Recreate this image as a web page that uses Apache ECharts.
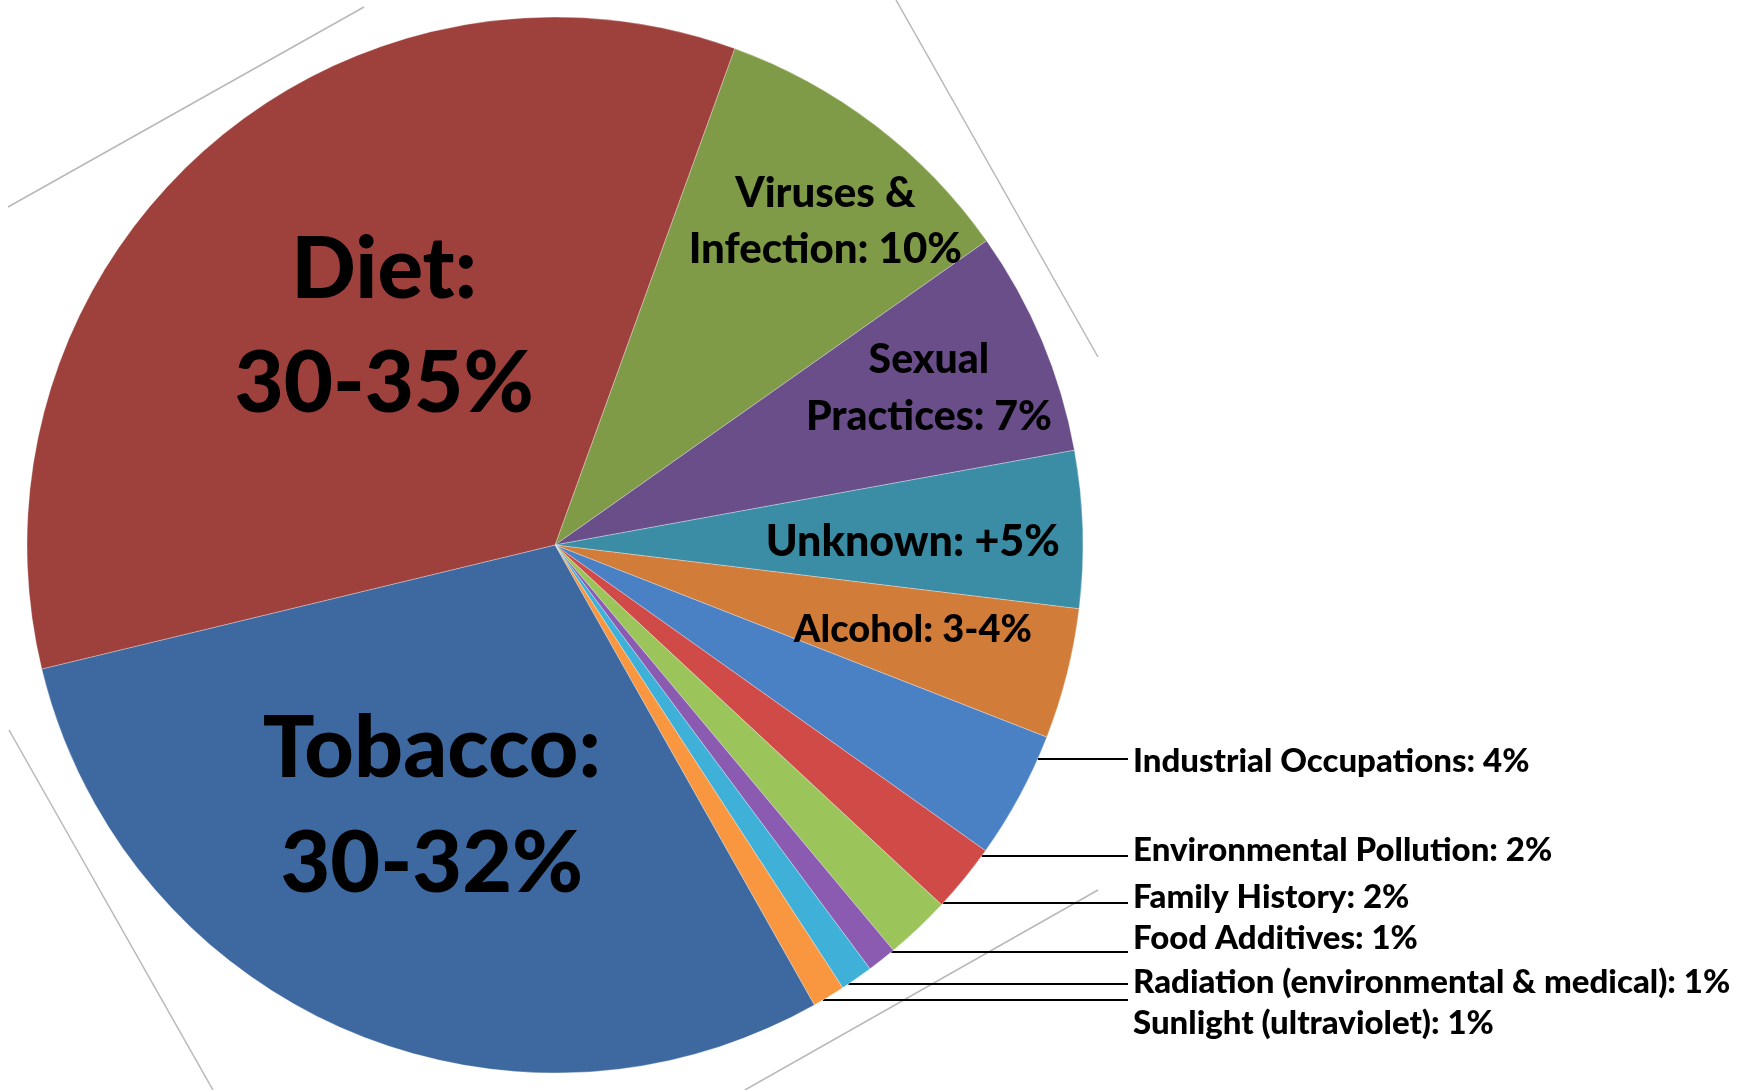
<!DOCTYPE html>
<html>
<head>
<meta charset="utf-8">
<style>
  html, body { margin: 0; padding: 0; background: #fff; }
  #chart { width: 1745px; height: 1090px; }
</style>
<script src="https://cdn.jsdelivr.net/npm/echarts@6/dist/echarts.min.js"></script>
</head>
<body>
<div id="chart"></div>
<script>
// slices, clockwise starting at the Diet / Viruses edge
const causes = [
    'Viruses & Infection', 'Sexual Practices', 'Unknown', 'Alcohol',
    'Industrial Occupations', 'Environmental Pollution', 'Family History',
    'Food Additives', 'Radiation (environmental & medical)',
    'Sunlight (ultraviolet)', 'Tobacco', 'Diet'
];
const shares = [9.7, 6.9, 4.8, 4.0, 3.9, 2.1, 2.0, 0.9, 1.0, 1.0, 29.4, 34.3];
const labelTexts = [
    'Viruses &\nInfection: 10%', 'Sexual\nPractices: 7%', 'Unknown: +5%', 'Alcohol: 3-4%',
    'Industrial Occupations: 4%', 'Environmental Pollution: 2%', 'Family History: 2%',
    'Food Additives: 1%', 'Radiation (environmental & medical): 1%',
    'Sunlight (ultraviolet): 1%', 'Tobacco:\n30-32%', 'Diet:\n30-35%'
];

const colors = [
    '#7f9b48', '#6a4e8a', '#3a8da5', '#d27c3a', '#4a80c4', '#d04b48',
    '#9bc55a', '#8a5bb0', '#3fb1d9', '#f8973f', '#3e69a0', '#9e403c'
];

// layout
const CX = 555, CY = 545, R = 528;
const START = 70.1;
const LABEL_X = 1133, LINE_END = 1128;

// labels drawn inside a slice: radius fraction + small nudge
const insideLabels = {
    0: { rf: 0.80, dx: 14, dy: 12, size: 42, lh: 56 },
    1: { rf: 0.77, dx: -1, dy: 1, size: 41, lh: 57 },
    2: { rf: 0.678, dx: 0, dy: 8, size: 43, lh: 50 },
    3: { rf: 0.697, dx: 1, dy: -5, size: 38, lh: 44 },
    10: { rf: 0.547, dx: -8, dy: -3, size: 86, lh: 115 },
    11: { rf: 0.525, dx: 14, dy: -11, size: 85, lh: 114 }
};
// labels on the right with a horizontal leader line
const outsideLabels = {
    4: { textY: 761, lineY: 759 },
    5: { textY: 850, lineY: 856 },
    6: { textY: 897, lineY: 903 },
    7: { textY: 938, lineY: 952 },
    8: { textY: 982, lineY: 984 },
    9: { textY: 1023, lineY: 1000 }
};

// faint edges of the rotated frame behind the pie
const frameLines = [
    [[8, 207], [364, 7]],
    [[896, 0], [1098, 357]],
    [[9, 730], [213, 1090]],
    [[1098, 890], [745, 1090]]
];

const total = shares.reduce((a, b) => a + b, 0);
const midAngles = [];
let acc = 0;
shares.forEach(v => {
    midAngles.push((90 - START) + (acc + v / 2) / total * 360);
    acc += v;
});

const chart = echarts.init(document.getElementById('chart'));

const option = {
    backgroundColor: '#fff',
    animation: false,
    graphic: frameLines.map(pts => ({
        type: 'polyline',
        shape: { points: pts },
        style: { stroke: '#b8b8b8', lineWidth: 1.5 },
        silent: true,
        z: -10
    })),
    series: [{
        type: 'pie',
        center: [CX, CY],
        radius: R,
        startAngle: START,
        clockwise: true,
        avoidLabelOverlap: false,
        silent: true,
        itemStyle: {
            borderColor: 'rgba(255,255,255,0.3)',
            borderWidth: 1
        },
        label: {
            fontFamily: 'Lato',
            fontWeight: 900,
            color: '#000',
            textBorderWidth: 0,
            formatter: p => labelTexts[p.dataIndex]
        },
        labelLine: {
            show: true,
            smooth: false,
            lineStyle: { color: '#000', width: 2 }
        },
        labelLayout: function (p) {
            const i = p.dataIndex;
            if (insideLabels[i]) {
                const L = insideLabels[i];
                const a = midAngles[i] * Math.PI / 180;
                return {
                    x: CX + L.rf * R * Math.sin(a) + L.dx,
                    y: CY - L.rf * R * Math.cos(a) + L.dy,
                    align: 'center',
                    verticalAlign: 'middle'
                };
            }
            const L = outsideLabels[i];
            const edgeX = CX + Math.sqrt(R * R - (L.lineY - CY) * (L.lineY - CY));
            return {
                x: LABEL_X,
                y: L.textY,
                align: 'left',
                verticalAlign: 'middle',
                labelLinePoints: [[edgeX, L.lineY], [edgeX + 1, L.lineY], [LINE_END, L.lineY]]
            };
        },
        data: causes.map((name, i) => {
            const inside = insideLabels[i];
            return {
                name: name,
                value: shares[i],
                itemStyle: { color: colors[i] },
                label: inside
                    ? { position: 'inside', fontSize: inside.size, lineHeight: inside.lh, align: 'center' }
                    : { position: 'outside', fontSize: 33, lineHeight: 38 },
                labelLine: { show: !inside }
            };
        })
    }]
};

chart.setOption(option);
</script>
</body>
</html>
